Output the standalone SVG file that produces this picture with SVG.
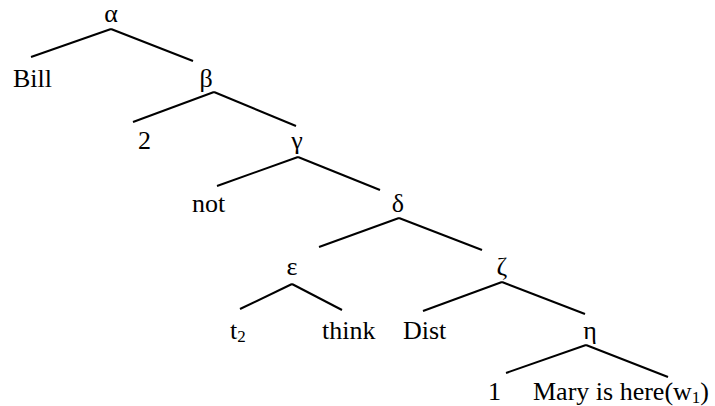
<svg xmlns="http://www.w3.org/2000/svg" width="715" height="406" viewBox="0 0 715 406">
<style>
text{font-family:"Liberation Serif","Times New Roman",serif;font-size:26px;fill:#000}
.m{text-anchor:middle}
.sub{font-size:17px}
line{stroke:#000;stroke-width:2;stroke-linecap:butt}
</style>
<rect width="715" height="406" fill="#fff"/>
<g id="connectors">
<line x1="111" y1="29" x2="31" y2="57"/>
<line x1="111" y1="29" x2="193" y2="61"/>
<line x1="214" y1="92" x2="133" y2="122"/>
<line x1="214" y1="92" x2="296" y2="126"/>
<line x1="298" y1="157" x2="217" y2="186"/>
<line x1="298" y1="157" x2="380" y2="190"/>
<line x1="399" y1="218" x2="319" y2="247"/>
<line x1="399" y1="218" x2="482" y2="250"/>
<line x1="292" y1="284" x2="240" y2="309"/>
<line x1="292" y1="284" x2="342" y2="310"/>
<line x1="502" y1="282" x2="423" y2="311"/>
<line x1="502" y1="282" x2="585" y2="314"/>
<line x1="586" y1="345" x2="506" y2="373"/>
<line x1="586" y1="345" x2="668" y2="377"/>
</g>
<g id="alpha"><text class="m" x="111" y="22">α</text></g>
<g id="bill"><text x="13" y="87">Bill</text></g>
<g id="beta"><text class="m" x="206" y="87">β</text></g>
<g id="two"><text x="138" y="149">2</text></g>
<g id="gamma"><text class="m" x="297" y="149">γ</text></g>
<g id="not"><text x="192" y="212">not</text></g>
<g id="delta"><text class="m" x="398" y="212">δ</text></g>
<g id="epsilon"><text class="m" x="292" y="275">ε</text></g>
<g id="zeta"><text class="m" x="502" y="275">ζ</text></g>
<g id="t2"><text x="230" y="339">t<tspan class="sub" dy="3">2</tspan></text></g>
<g id="think"><text x="322" y="339">think</text></g>
<g id="dist"><text x="403" y="339">Dist</text></g>
<g id="eta"><text class="m" x="590" y="339">η</text></g>
<g id="one"><text x="488" y="400">1</text></g>
<g id="mary"><text x="533" y="400">Mary is here(w<tspan class="sub" dy="3">1</tspan><tspan dy="-3">)</tspan></text></g>
</svg>
